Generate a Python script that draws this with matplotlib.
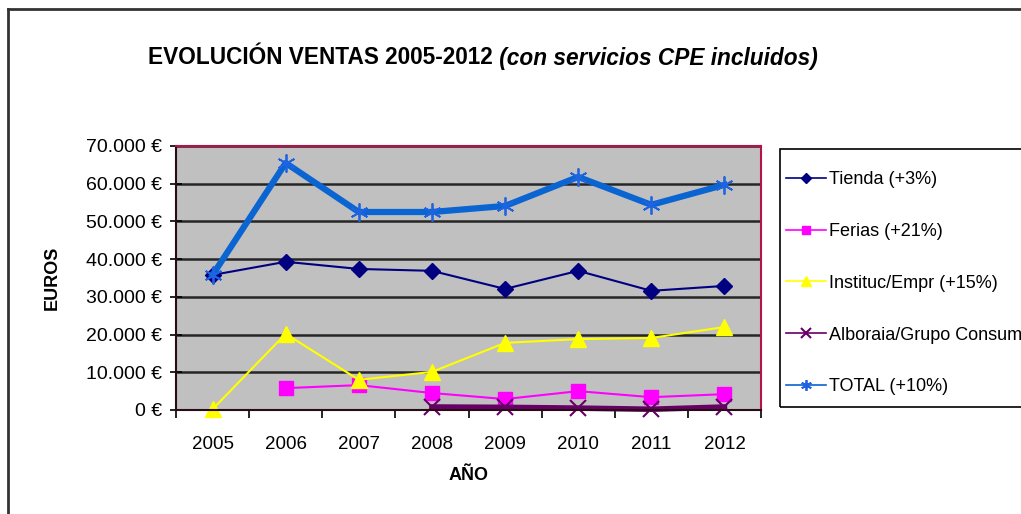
import numpy as np
import matplotlib.pyplot as plt
from matplotlib.lines import Line2D
from matplotlib.patches import Rectangle

plt.rcParams['font.family'] = ['Liberation Sans', 'DejaVu Sans']

# Datos (euros por año)
years = ['2005', '2006', '2007', '2008', '2009', '2010', '2011', '2012']
tienda = [35800, 39300, 37400, 36900, 32100, 36900, 31600, 32900]
ferias = [np.nan, 5800, 6600, 4500, 2900, 5000, 3400, 4200]
instituc = [200, 20200, 8000, 10100, 17800, 18800, 19100, 22000]
alboraia = [np.nan, np.nan, np.nan, 800, 700, 500, 200, 800]
total = [35800, 65500, 52500, 52500, 54100, 61800, 54400, 59700]

labels = ['Tienda (+3%)', 'Ferias (+21%)', 'Instituc/Empr (+15%)',
          'Alboraia/Grupo Consumo', 'TOTAL (+10%)']

fig = plt.figure(figsize=(10.21, 5.14), dpi=100)
ax = fig.add_axes([176/1021, 1-410/514, (761-176)/1021, (410-146)/514])
ax.set_facecolor('#C0C0C0')

x = np.arange(len(years))
h1, = ax.plot(x, tienda, color='#000080', lw=1.5, marker='D', ms=8, clip_on=False)
h2, = ax.plot(x, ferias, color='#FF00FF', lw=1.5, marker='s', ms=10, clip_on=False)
h3, = ax.plot(x, instituc, color='#FFFF00', lw=1.5, marker='^', ms=11, clip_on=False)
h4, = ax.plot(x, alboraia, color='#660066', lw=4, marker='x', ms=11, mew=1.5,
              clip_on=False)
h5, = ax.plot(x, total, color='#0A64D2', lw=4.5, marker=(6, 2, 0), ms=13,
              mew=1.3, mec='#1E64E0', clip_on=False)

ax.set_xlim(-0.5, 7.5)
ax.set_ylim(0, 70000)
ax.set_yticks(np.arange(0, 70001, 10000))
ax.set_yticklabels(['0 €'] + ['{:,} €'.format(v).replace(',', '.')
                              for v in range(10000, 70001, 10000)])
ax.set_xticks(x)
ax.set_xticklabels(years)
ax.set_xticks(np.arange(-0.5, 8, 1), minor=True)
ax.tick_params(axis='x', which='major', length=0, pad=19, labelsize=13.5)
ax.tick_params(axis='x', which='minor', length=6, width=1.2, direction='out')
ax.tick_params(axis='y', length=8, width=1.2, direction='inout', pad=6, labelsize=14)
ax.grid(axis='y', color='#262626', lw=1.8)
ax.set_axisbelow(True)

for s in ['top', 'right']:
    ax.spines[s].set_color('#B8104A')
    ax.spines[s].set_linewidth(1.5)
for s in ['left', 'bottom']:
    ax.spines[s].set_color('#2A0A14')
    ax.spines[s].set_linewidth(1.5)

ax.set_xlabel('AÑO', fontsize=13, fontweight='bold', labelpad=10)
ax.set_ylabel('EUROS', fontsize=13, fontweight='bold', labelpad=18)

t1 = fig.text(148/1021, 1-58/514, 'EVOLUCIÓN VENTAS 2005-2012',
              fontsize=16.3, fontweight='bold', va='center', ha='left')
ax.annotate(' (con servicios CPE incluidos)', xy=(1, 0.5), xycoords=t1,
            va='center', ha='left', fontsize=16.3, fontweight='bold',
            fontstyle='italic', annotation_clip=False)

# leyenda sin marco + marco aparte (recortado por el borde derecho)
leg = fig.legend([h1, h2, h3, h4, h5], labels, loc='upper left',
                 bbox_to_anchor=(786/1021, 1-171/514), borderaxespad=0,
                 borderpad=0, fontsize=13, frameon=False,
                 labelspacing=1.93, handlelength=2.2, handletextpad=0.2,
                 markerscale=0.6)
for lh in leg.legend_handles:
    lh.set_linewidth(1.2)
fig.add_artist(Rectangle((780/1021, 1-407/514), 300/1021, (407-149)/514,
                         transform=fig.transFigure, fill=False,
                         edgecolor='black', lw=1.2))

# marco exterior del gráfico
fig.add_artist(Line2D([8/1021, 8/1021], [0, 1-9/514], color='#333333', lw=2))
fig.add_artist(Line2D([8/1021, 1], [1-9/514, 1-9/514], color='#333333', lw=2))

fig.savefig('out.png', dpi=100)
